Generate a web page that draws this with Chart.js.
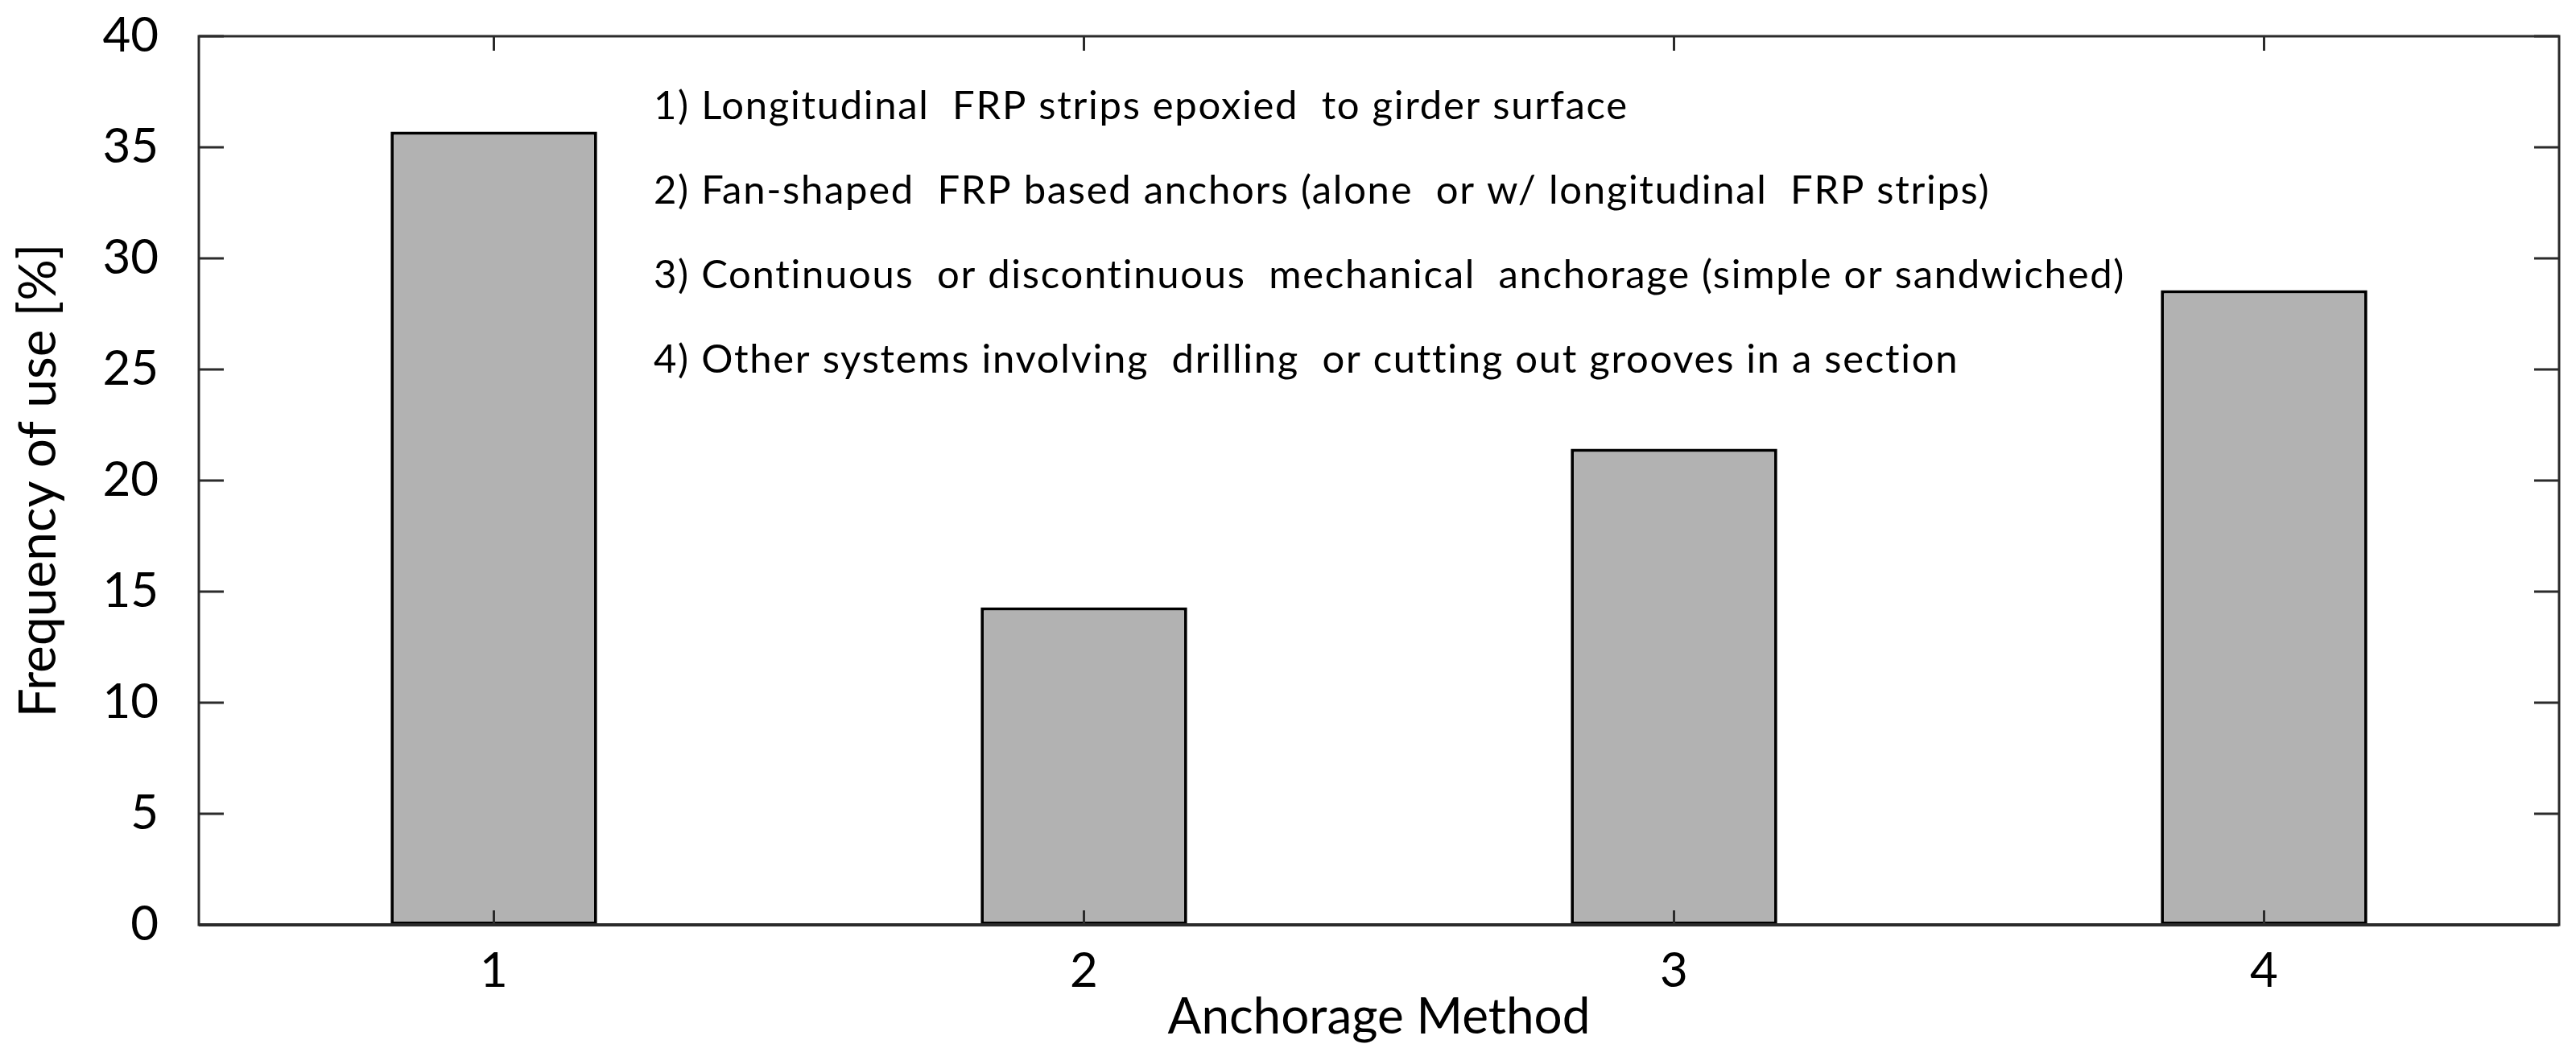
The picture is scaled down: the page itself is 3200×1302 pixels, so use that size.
<!DOCTYPE html>
<html>
<head>
<meta charset="utf-8">
<script src="https://cdn.jsdelivr.net/npm/chart.js@4.4.0/dist/chart.umd.min.js"></script>
<style>
  html, body { margin: 0; padding: 0; background: #fff; }
  canvas { display: block; }
</style>
</head>
<body>
<canvas id="anchorageChart" width="3200" height="1302"></canvas>
<script>
// Anchorage methods and how often each one is used (%)
var methods = ['1', '2', '3', '4'];
var frequency = [35.71, 14.29, 21.43, 28.57];
var yMin = 0, yMax = 40, yStep = 5;

var notes = [
    '1) Longitudinal  FRP strips epoxied  to girder surface',
    '2) Fan-shaped  FRP based anchors (alone  or w/ longitudinal  FRP strips)',
    '3) Continuous  or discontinuous  mechanical  anchorage (simple or sandwiched)',
    '4) Other systems involving  drilling  or cutting out grooves in a section'
];

var FONT = 'Lato';
var frameColor = '#2b2b2b';

// frame with inward ticks on all four sides, plus the numbered notes
var framePlugin = {
    id: 'frame',
    afterDraw: function(chart) {
        var ctx = chart.ctx;
        var a = chart.chartArea;
        var xs = chart.scales.x, ys = chart.scales.y;
        ctx.save();
        ctx.strokeStyle = frameColor;
        ctx.lineWidth = 3;
        ctx.strokeRect(a.left, a.top, a.right - a.left, a.bottom - a.top);
        ctx.lineWidth = 4;
        ctx.beginPath();
        ctx.moveTo(a.left, a.bottom);
        ctx.lineTo(a.right, a.bottom);
        ctx.stroke();

        ctx.lineWidth = 3;
        ctx.beginPath();
        xs.ticks.forEach(function(t, i) {
            var px = xs.getPixelForTick(i);
            ctx.moveTo(px, a.bottom);
            ctx.lineTo(px, a.bottom - 18);
            ctx.moveTo(px, a.top);
            ctx.lineTo(px, a.top + 18);
        });
        ys.ticks.forEach(function(t, i) {
            var py = ys.getPixelForTick(i);
            ctx.moveTo(a.left, py);
            ctx.lineTo(a.left + 31, py);
            ctx.moveTo(a.right, py);
            ctx.lineTo(a.right - 31, py);
        });
        ctx.stroke();

        ctx.fillStyle = '#000';
        ctx.font = '49px ' + FONT;
        ctx.letterSpacing = '1.7px';
        ctx.textBaseline = 'alphabetic';
        ctx.textAlign = 'left';
        notes.forEach(function(line, i) {
            ctx.fillText(line, 812, 148 + i * 105);
        });
        ctx.restore();
    }
};

function build() {
    var chart = new Chart(document.getElementById('anchorageChart'), {
        type: 'bar',
        data: {
            labels: methods,
            datasets: [{
                data: frequency,
                backgroundColor: '#b2b2b2',
                borderColor: '#000',
                borderWidth: 4,
                borderSkipped: false,
                categoryPercentage: 1.0,
                barPercentage: 0.35
            }]
        },
        options: {
            responsive: false,
            animation: false,
            layout: { padding: { top: 45, right: 21, left: 0, bottom: 0 } },
            plugins: {
                legend: { display: false },
                tooltip: { enabled: false }
            },
            scales: {
                x: {
                    afterFit: function(s) { s.height = 153; },
                    grid: { display: false },
                    border: { display: false },
                    ticks: { color: '#000', padding: 14, font: { family: FONT, size: 60 } },
                    title: {
                        display: true,
                        text: 'Anchorage Method',
                        color: '#000',
                        font: { family: FONT, size: 62, lineHeight: 1.2 },
                        padding: { top: 0, bottom: 1 }
                    }
                },
                y: {
                    min: yMin,
                    max: yMax,
                    afterFit: function(s) {
                        s.width = 247;
                        s.paddingTop = 0;
                        s.paddingBottom = 0;
                    },
                    grid: { display: false },
                    border: { display: false },
                    ticks: { stepSize: yStep, color: '#000', padding: 42, font: { family: FONT, size: 60 } },
                    title: {
                        display: true,
                        text: 'Frequency of use [%]',
                        color: '#000',
                        font: { family: FONT, size: 64, lineHeight: 1.2 },
                        padding: { top: 10, bottom: 0 }
                    }
                }
            }
        },
        plugins: [framePlugin]
    });
}

Promise.all([
    document.fonts.load('60px Lato'),
    document.fonts.load('49px Lato')
]).then(build, build);
</script>
</body>
</html>
